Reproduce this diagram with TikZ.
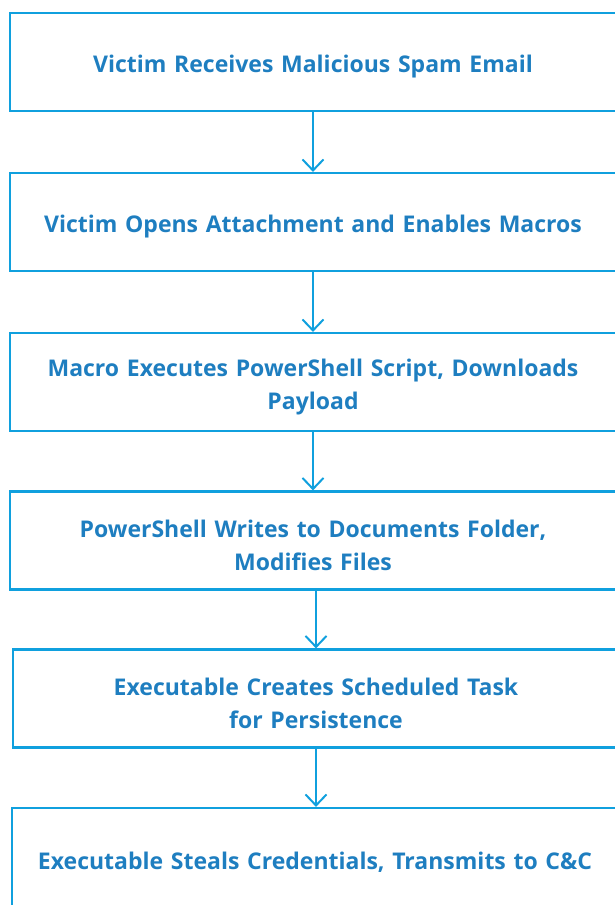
\documentclass[tikz,border=0pt]{standalone}
\usepackage{fontspec}
\setmainfont{Open Sans}
\usetikzlibrary{arrows.meta,positioning}
\tikzset{every node/.append style={align=center}}
\definecolor{framecolor}{RGB}{16, 160, 222}
\definecolor{textcolor}{RGB}{30, 126, 192}

\begin{document}
\begin{tikzpicture}[x=1pt, y=-1pt,
    stepbox/.style={draw=framecolor, line width=2.2pt, minimum width=606pt, minimum height=98pt, text width=580pt, text height=27pt, font=\fontsize{23}{33}\selectfont\bfseries, text=textcolor, inner sep=0pt},
    flow/.style={-{Straight Barb[length=11pt, width=21pt, line width=2pt]}, draw=framecolor, line width=2.2pt}
]
    \useasboundingbox (0, 0) rectangle (615, 905);

    % Steps of the attack
    \node[stepbox] (spam) at (313, 62) {Victim Receives Malicious Spam Email};
    \node[stepbox] (macros) at (313, 222) {Victim Opens Attachment and Enables Macros};
    \node[stepbox] (script) at (313, 382) {Macro Executes PowerShell Script, Downloads\\Payload};
    \node[stepbox] (docs) at (313, 540.5) {PowerShell Writes to Documents Folder,\\Modifies Files};
    \node[stepbox] (task) at (316, 698.5) {Executable Creates Scheduled Task\\for Persistence};
    \node[stepbox] (creds) at (315, 857) {Executable Steals Credentials, Transmits to C\&C};

    % Arrows between steps
    \draw[flow] (spam) -- (macros);
    \draw[flow] (macros) -- (script);
    \draw[flow] (script) -- (docs);
    \draw[flow] (docs.south -| task) -- (task);
    \draw[flow] (task) -- (creds.north -| task);

\end{tikzpicture}
\end{document}
